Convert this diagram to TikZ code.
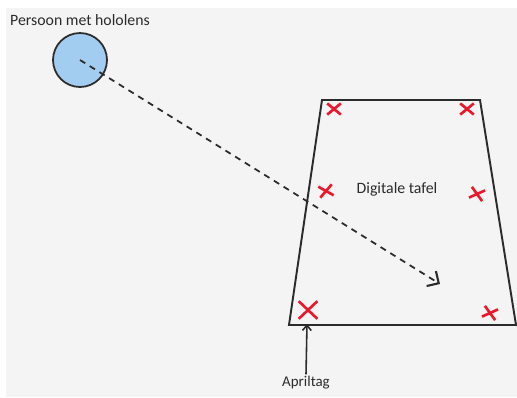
\documentclass[tikz,border=0pt]{standalone}
\usepackage{fontspec}
\setmainfont{Carlito}
\usepackage{xcolor}
\usepackage{tikz}
\usetikzlibrary{positioning,shapes.misc,arrows.meta}
\definecolor{canvasgrey}{HTML}{F4F4F4}
\definecolor{headblue}{HTML}{A3CDF0}
\definecolor{tagred}{HTML}{E8192C}
\definecolor{inkgrey}{HTML}{2B2B2B}

\begin{document}
\begin{tikzpicture}[
x=0.02cm, y=-0.02cm,
person/.style={
circle,
draw=inkgrey,
line width=1pt,
fill=headblue,
minimum size=1.08cm,
inner sep=0pt
},
caption/.style={
text=inkgrey,
font=\fontsize{9}{11}\selectfont,
inner sep=1pt
},
tagcross/.style={
cross out,
draw=tagred,
line width=1.5pt,
minimum width=0.22cm,
minimum height=0.17cm,
inner sep=0pt
},
table/.style={
draw=inkgrey,
line width=1.1pt
},
sight/.style={
dash pattern=on 3.5pt off 3pt,
line width=1pt,
color=inkgrey,
-{Straight Barb[length=5pt,width=10pt,line width=1.2pt]}
},
arrow/.style={
line width=0.9pt,
color=inkgrey,
-{Straight Barb[length=3pt,width=5pt]}
}
]

% canvas
\useasboundingbox (0,0) rectangle (517,397);
\fill[canvasgrey] (6,8) rectangle (517,397);

\node[person] (person) at (80,60) {};

\node[caption, above=0.08cm of person] (personlabel)
{Persoon met hololens};

% digitale tafel
\draw[table] (322,100) -- (480,100) -- (516,325) -- (289,325) -- cycle;

\node[caption, font=\fontsize{9}{10}\selectfont] (tablelabel) at (397,189)
{Digitale tafel};

\node[tagcross] (tag1) at (334,109) {};
\node[tagcross] (tag2) at (467,109) {};
\node[tagcross, rotate=10] (tag3) at (326,191) {};
\node[tagcross, rotate=-15] (tag4) at (477,194) {};
\node[tagcross, minimum width=0.32cm, minimum height=0.3cm] (tag5) at (308,310) {};
\node[tagcross, rotate=-15] (tag6) at (490,313) {};

\coordinate (gaze) at (440,284);
\coordinate (tagfoot) at (307,324);

\node[caption, font=\fontsize{8.5}{10}\selectfont] (aprillabel) at (306,383)
{Apriltag};

\draw[sight] (person.center) -- (gaze);

\draw[arrow] (aprillabel.north) -- (tagfoot);

\end{tikzpicture}
\end{document}
